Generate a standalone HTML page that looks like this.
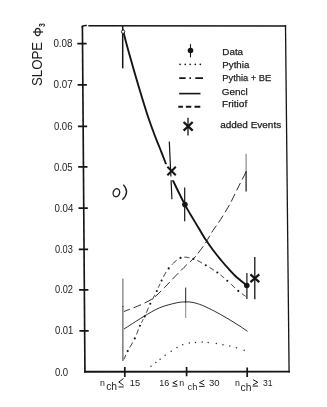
<!DOCTYPE html>
<html><head><meta charset="utf-8">
<style>
html,body{margin:0;padding:0;background:#fff;}
body{width:327px;height:407px;overflow:hidden;font-family:"Liberation Sans",sans-serif;}
svg{display:block;filter:grayscale(1);}
text{font-family:"Liberation Sans",sans-serif;fill:#1c1c1c;}
</style></head><body>
<svg width="327" height="407" viewBox="0 0 327 407">
<rect width="327" height="407" fill="#fff"/>
<!-- frame -->
<g stroke="#151515" fill="none">
<path d="M82.400 25.500 L84.950 372.500" stroke-width="1.650"/>
<path d="M84 371.750 L289.800 371.650" stroke-width="1.800"/>
<path d="M82 27.500 Q82.300 25.300 86.800 25.600 M88.300 25.700 L286.200 26" stroke-width="1.500"/>
<path d="M285.500 25.300 L289.100 372.500" stroke-width="1.300"/>
<g stroke-width="1.700">
<path d="M77.3 43.6H86.6 M77.6 84.8H86.9 M77.9 126.3H87.2 M78.2 166.9H87.5 M78.5 208.1H87.8 M78.8 249.3H88.1 M79.1 289.8H88.4 M79.4 330.8H88.7"/>
<path d="M124.800 366.900V377M186.600 366.900V376.300M247.200 367.400V377"/>
</g>
</g>
<!-- y labels -->
<g font-size="10.100">
<text x="53.4" y="47.1" textLength="19.1" lengthAdjust="spacingAndGlyphs">0.08</text>
<text x="53.6" y="87.9" textLength="19.1" lengthAdjust="spacingAndGlyphs">0.07</text>
<text x="53.9" y="129.8" textLength="18.6" lengthAdjust="spacingAndGlyphs">0.06</text>
<text x="54.1" y="170.5" textLength="18.6" lengthAdjust="spacingAndGlyphs">0.05</text>
<text x="54.4" y="211.7" textLength="18.9" lengthAdjust="spacingAndGlyphs">0.04</text>
<text x="54.9" y="253.0" textLength="18.0" lengthAdjust="spacingAndGlyphs">0.03</text>
<text x="55.0" y="292.7" textLength="18.0" lengthAdjust="spacingAndGlyphs">0.02</text>
<text x="54.9" y="333.7" textLength="18.4" lengthAdjust="spacingAndGlyphs">0.01</text>
<text x="54.900" y="376.300" textLength="13.300" lengthAdjust="spacingAndGlyphs">0.0</text>
</g>
<!-- title -->
<text transform="translate(42.400,86) rotate(-90)" font-size="15.200" textLength="44.200" lengthAdjust="spacingAndGlyphs">SLOPE</text>
<g stroke="#1c1c1c" fill="none">
<ellipse cx="37.700" cy="32" rx="2.500" ry="3.600" stroke-width="1.100"/>
<path d="M33 32H43" stroke-width="1.200"/>
</g>
<text transform="translate(45,26.900) rotate(-90)" font-size="8.200" font-weight="bold" textLength="3.800" lengthAdjust="spacingAndGlyphs">3</text>
<!-- x labels -->
<g font-size="9.600">
<text x="100" y="385.600" font-size="8.800">n</text>
<text x="106.200" y="390.200" font-size="10.300">ch</text>
<text x="129.800" y="386.300" font-size="9.900" textLength="10.300" lengthAdjust="spacingAndGlyphs">15</text>
<text x="159.200" y="386.100" font-size="9.800" textLength="10" lengthAdjust="spacingAndGlyphs">16</text>
<text x="179.200" y="386.200" font-size="8.800">n</text>
<text x="187.600" y="389.800" font-size="9.200">ch</text>
<text x="209" y="385.800" font-size="9.800" textLength="10.600" lengthAdjust="spacingAndGlyphs">30</text>
<text x="235" y="385.700" font-size="8.800">n</text>
<text x="240.600" y="390.600" font-size="10.300">ch</text>
<text x="263" y="385.800" font-size="9.600" textLength="9.600" lengthAdjust="spacingAndGlyphs">31</text>
</g>
<g stroke="#1c1c1c" fill="none" stroke-width="1" stroke-linejoin="miter">
<path d="M123.600 378.500L118.800 382L123.600 385.400M118.500 387H123.700"/>
<path d="M177.300 380.600L172.800 382.800L177.300 384.800M172.400 386.200H177.400"/>
<path d="M204.300 380.100L199.500 382.700L204.300 384.800M199.100 386.400H204.600"/>
<path d="M252.900 379.600L257.800 382.300L252.900 385M252.600 386.100H258"/>
</g>
<!-- a) -->
<g stroke="#1c1c1c" fill="none" stroke-width="1.300">
<ellipse cx="116.400" cy="192.700" rx="3.200" ry="4" transform="rotate(18 116.400 192.700)"/>
<path d="M123.300 184.600 Q130.300 192 122.400 199.800"/>
</g>
<!-- legend -->
<g font-size="9.900" stroke="#1c1c1c" stroke-width="0.250">
<text x="222.300" y="54.900" textLength="20.800" lengthAdjust="spacingAndGlyphs">Data</text>
<text x="222.300" y="67.500" textLength="27" lengthAdjust="spacingAndGlyphs">Pythia</text>
<text x="222.300" y="81.300" textLength="49" lengthAdjust="spacingAndGlyphs">Pythia + BE</text>
<text x="221.800" y="94.700" textLength="26" lengthAdjust="spacingAndGlyphs">Gencl</text>
<text x="222" y="107.300" textLength="25.200" lengthAdjust="spacingAndGlyphs">Fritiof</text>
<text x="220.200" y="128" textLength="61" lengthAdjust="spacingAndGlyphs">added Events</text>
</g>
<g stroke="#151515" fill="none">
<path d="M190.500 44.200V57.400" stroke-width="1.100"/>
<circle cx="190.500" cy="50.500" r="2.800" fill="#151515" stroke="none"/>
<g fill="#151515" stroke="none">
<circle cx="180.100" cy="64.300" r="0.850"/><circle cx="185.200" cy="64.300" r="0.850"/><circle cx="190.200" cy="64.300" r="0.850"/><circle cx="195.300" cy="64.300" r="0.850"/><circle cx="200.300" cy="64.300" r="0.850"/>
</g>
<path d="M179.200 78.100H185.600M189.400 78.100H191M195.300 78.100H203" stroke-width="1.900"/>
<path d="M179.200 93.600H200.500" stroke-width="1.600"/>
<path d="M178.300 106.800H182.900M185.900 106.800H191.300M194.500 106.800H200.300" stroke-width="1.900"/>
<path d="M183.600 122L192.700 130.600M192.700 122L183.600 130.600" stroke-width="2.300"/>
<path d="M188 117.700V135.500" stroke-width="1.300"/>
</g>
<!-- curves -->
<g stroke="#151515" fill="none">
<clipPath id="dc"><rect x="0" y="0" width="327" height="164.200"/><rect x="0" y="180.300" width="327" height="200"/></clipPath>
<path d="M122.8 29.5 C123.7 33.0 125.9 42.0 128.3 50.6 C130.7 59.2 134.1 71.0 137.1 81.2 C140.1 91.4 143.6 102.9 146.4 111.7 C149.2 120.5 152.0 128.0 154.2 134.0 C156.4 140.0 157.7 142.7 159.6 147.5 C161.5 152.3 164.0 158.9 165.6 163.0 C167.2 167.1 167.6 169.0 168.9 172.0 C170.2 175.0 171.6 177.7 173.2 181.0 C174.8 184.3 176.6 188.1 178.5 192.0 C180.4 195.9 183.0 200.9 184.9 204.6 C186.8 208.3 188.0 210.3 190.2 214.0 C192.4 217.7 195.4 222.7 198.0 227.0 C200.6 231.3 203.1 235.8 205.6 239.6 C208.1 243.4 210.5 246.7 213.0 250.0 C215.5 253.3 218.1 256.6 220.6 259.6 C223.1 262.6 225.4 265.4 228.0 268.2 C230.6 271.0 232.8 273.6 235.9 276.5 C239.0 279.4 245.0 284.0 246.8 285.5" stroke-width="1.900" clip-path="url(#dc)"/>
<path d="M122.700 26V68.400" stroke-width="1.500"/>
<path d="M169.300 141.600L170.900 176.500M171.100 180.300L171.900 199.300" stroke-width="1.200"/>
<path d="M184.700 187.600V221.200" stroke-width="1.200"/>
<path d="M246.900 273.100V299" stroke-width="1.200"/>
<path d="M254.800 256.900V299.300" stroke-width="1.300"/>
<circle cx="123.100" cy="31.700" r="1.700" fill="#fff" stroke-width="0.900"/>
<circle cx="184.900" cy="204.600" r="2.800" fill="#151515" stroke="none"/>
<circle cx="246.800" cy="285.500" r="2.800" fill="#151515" stroke="none"/>
<path d="M167.400 166.700L175.800 175.300M175.800 166.700L167.400 175.300" stroke-width="2"/>
<path d="M250.400 274.400L259.300 282.200M259.300 274.400L250.400 282.200" stroke-width="2.200"/>
<!-- Fritiof dashed -->
<path d="M123.9 311.5 C125.6 310.9 130.8 308.9 134.0 307.6 C137.2 306.3 139.9 305.3 143.2 303.7 C146.5 302.1 150.1 300.5 153.7 297.8 C157.3 295.1 161.0 291.0 164.7 287.3 C168.4 283.6 172.0 279.6 175.7 275.8 C179.4 272.1 183.5 267.9 186.7 264.8 C189.9 261.7 191.9 260.5 195.0 257.0 C198.1 253.5 202.0 248.1 205.0 243.7 C208.0 239.3 210.3 234.6 212.9 230.6 C215.5 226.6 217.8 223.9 220.6 219.5 C223.4 215.1 226.8 209.8 229.8 204.2 C232.9 198.6 236.2 191.2 238.9 185.9 C241.6 180.6 244.8 174.4 246.0 172.1" stroke-width="0.900" stroke-dasharray="8.400 3.864" stroke-dashoffset="2.100"/>
<path d="M246.100 171V191.400" stroke-width="1.200"/>
<path d="M246.100 153.800V171.500" stroke-width="0.700" stroke="#333"/>
<!-- Gencl solid thin -->
<path d="M123.9 329.1 C127.1 327.1 137.2 320.4 143.2 316.8 C149.2 313.2 154.3 310.0 159.8 307.7 C165.3 305.4 172.0 303.9 176.3 302.9 C180.6 301.9 182.8 302.0 185.6 301.9 C188.4 301.8 190.2 301.9 193.0 302.5 C195.8 303.1 198.6 303.9 202.2 305.3 C205.8 306.8 210.4 309.1 214.5 311.2 C218.6 313.3 222.6 315.6 226.7 318.0 C230.8 320.4 235.4 323.3 238.9 325.5 C242.4 327.7 246.1 330.4 247.5 331.4" stroke-width="0.900"/>
<path d="M122.900 278.600V307" stroke-width="0.700"/><path d="M122.900 306V361" stroke-width="0.850"/>
<path d="M185.700 287.600V303" stroke-width="0.950"/><path d="M185.700 303V318" stroke-width="0.600" stroke="#333"/>
<!-- Pythia+BE dashdot -->
<path d="M123.9 359.4 L124.1 358.9 L124.4 358.3 L124.7 357.6 L125.0 356.8 L125.4 355.9 L125.8 354.9 M129.7 347.5 L130.2 346.7 L130.7 345.9 L131.2 345.0 L131.7 344.2 L132.2 343.3 L132.6 342.5 M136.5 334.4 L136.9 333.5 L137.2 332.7 L137.5 331.8 L137.8 331.0 L138.1 330.2 L138.4 329.4 M141.4 322.7 L141.7 322.1 L142.0 321.6 L142.3 321.1 L142.6 320.5 L142.9 320.0 L143.2 319.4 M146.3 312.7 L146.7 311.9 L147.0 311.1 L147.4 310.3 L147.7 309.4 L148.1 308.6 L148.5 307.7 M152.3 299.7 L152.7 298.9 L153.2 298.0 L153.6 297.2 L154.0 296.4 L154.5 295.6 L154.9 294.8 M158.3 287.6 L158.6 287.0 L158.9 286.3 L159.2 285.7 L159.4 285.1 L159.7 284.4 L160.0 283.8 M163.5 276.8 L163.9 276.0 L164.3 275.2 L164.7 274.4 L165.2 273.7 L165.6 272.9 L166.1 272.1 M172.0 264.6 L172.7 263.9 L173.5 263.1 L174.2 262.3 L175.0 261.6 L175.8 260.9 L176.6 260.3 M184.4 257.2 L185.3 257.2 L186.1 257.2 L186.9 257.3 L187.7 257.5 L188.6 257.6 L189.4 257.8 M197.3 260.5 L198.1 260.9 L198.9 261.3 L199.7 261.7 L200.5 262.2 L201.3 262.6 L202.0 263.1 M209.5 267.4 L210.2 267.9 L211.0 268.3 L211.7 268.8 L212.4 269.2 L213.2 269.7 L213.9 270.2 M220.5 274.9 L221.1 275.4 L221.7 275.9 L222.3 276.4 L222.9 276.9 L223.6 277.4 L224.2 278.0 M230.8 283.9 L231.5 284.6 L232.2 285.3 L233.0 286.0 L233.7 286.7 L234.4 287.3 L235.1 288.0 M241.9 293.7 L242.7 294.3 L243.4 294.8 L244.1 295.3 L244.8 295.7 L245.3 296.1 L245.7 296.4 " stroke-width="0.900"/>
<g fill="#151515" stroke="none"><circle cx="127.7" cy="351.1" r="1.05"/><circle cx="134.8" cy="338.4" r="1.05"/><circle cx="139.9" cy="325.7" r="1.05"/><circle cx="144.7" cy="316.4" r="1.05"/><circle cx="150.3" cy="303.7" r="1.05"/><circle cx="156.8" cy="291.0" r="1.05"/><circle cx="161.6" cy="280.5" r="1.05"/><circle cx="168.7" cy="268.4" r="1.05"/><circle cx="180.5" cy="257.9" r="1.05"/><circle cx="193.4" cy="258.9" r="1.05"/><circle cx="205.8" cy="265.3" r="1.05"/><circle cx="217.3" cy="272.5" r="1.05"/><circle cx="227.3" cy="280.7" r="1.05"/><circle cx="238.3" cy="290.9" r="1.05"/></g>
<!-- Pythia dotted -->
<g fill="#2a2a2a" stroke="none"><circle cx="151.0" cy="366.3" r="0.75"/><circle cx="155.8" cy="362.6" r="0.75"/><circle cx="160.1" cy="359.3" r="0.75"/><circle cx="165.2" cy="355.2" r="0.75"/><circle cx="171.2" cy="351.2" r="0.75"/><circle cx="177.0" cy="347.5" r="0.75"/><circle cx="182.7" cy="344.8" r="0.75"/><circle cx="189.4" cy="343.1" r="0.75"/><circle cx="195.5" cy="342.4" r="0.75"/><circle cx="202.2" cy="342.1" r="0.75"/><circle cx="208.2" cy="342.4" r="0.75"/><circle cx="216.3" cy="343.5" r="0.75"/><circle cx="223.0" cy="344.8" r="0.75"/><circle cx="229.8" cy="346.1" r="0.75"/><circle cx="236.5" cy="347.8" r="0.75"/><circle cx="244.2" cy="350.2" r="0.75"/></g>
</g>
</svg>
</body></html>
